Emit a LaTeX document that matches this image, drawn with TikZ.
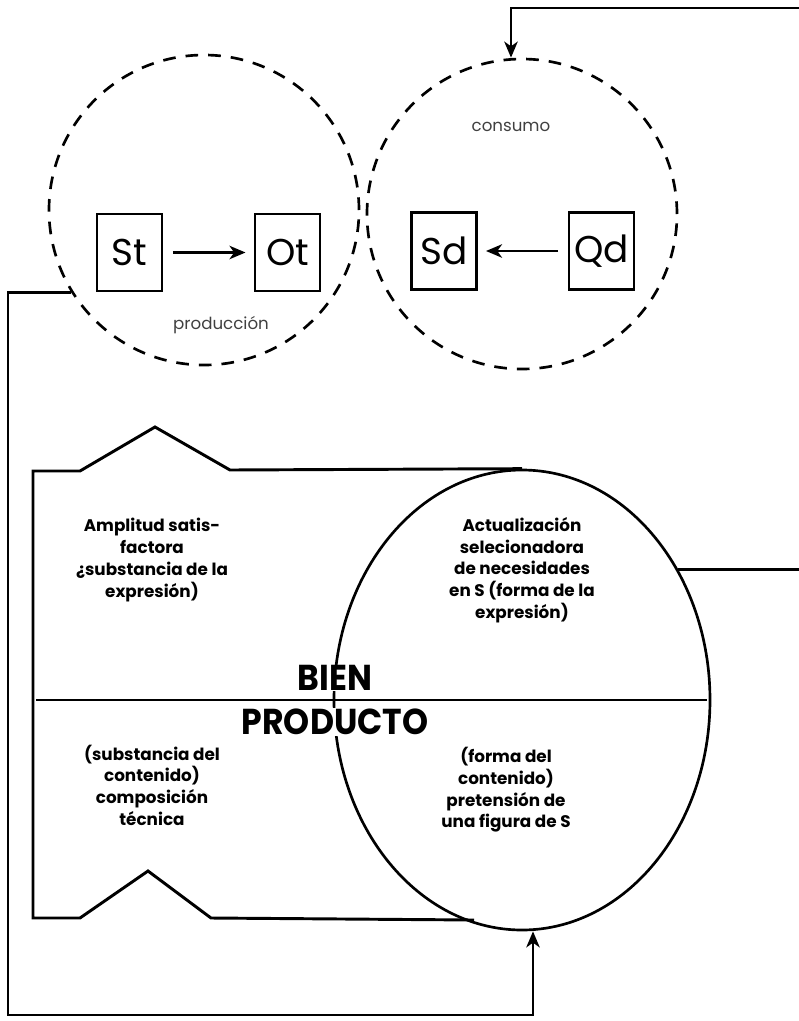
\documentclass[tikz,border=0pt]{standalone}
\usepackage{fontspec}
\setmainfont{Poppins}
\usetikzlibrary{arrows.meta,shapes.geometric}
\begin{document}
\begin{tikzpicture}[x=0.75pt,y=-0.75pt,
  box/.style={draw, line width=2.2pt, minimum width=48.75pt, minimum height=57.75pt, inner sep=0pt, font=\fontsize{28}{30}\selectfont},
  zone/.style={draw, circle, dash pattern=on 9.5pt off 7.5pt, line width=2pt, minimum size=232.5pt, inner sep=0pt},
  small/.style={text=black!75, font=\fontsize{12.5}{14}\selectfont},
  lbl/.style={align=center, font=\bfseries\fontsize{12.6}{16.3}\selectfont},
  big/.style={font=\bfseries\fontsize{27}{29}\selectfont, fill=white, inner sep=0.5pt},
  conn/.style={line width=2.2pt},
  arr/.style={conn, -{Stealth[length=12pt,width=10pt,inset=3.5pt]}}]
\useasboundingbox (0,0) rectangle (799,1021);
% circles
\node[zone] (prod) at (204,210) {};
\node[zone] (cons) at (522,214) {};
\node[small] (tprod) at (221,325) {producción};
\node[small] (tcons) at (511,127) {consumo};
% boxes
\node[box] (st) at (129.5,252.5) {St};
\node[box] (ot) at (287.5,252.5) {Ot};
\node[box] (sd) at (444,251) {Sd};
\node[box] (qd) at (601.5,251) {Qd};
\draw[arr, shorten <=7pt, shorten >=6pt] (st) -- (ot);
\draw[arr, shorten <=7pt, shorten >=6pt] (qd) -- (sd);
% big ellipse
\node[draw, ellipse, line width=2pt, minimum width=282pt, minimum height=345pt, inner sep=0pt] (bien) at (522,700) {};
% outline shape
\draw[line width=2.2pt, line join=miter] (bien.north) -- (230,470) -- (155,427) -- (80,471) -- (33,471) -- (33,918) -- (80,918) -- (148,871) -- (211,918) -- (474,920);
\coordinate (ml) at (36,700);
\coordinate (mr) at (707,700);
\draw[line width=2.2pt] (ml) -- (mr);
% texts
\node[lbl] (t1) at (152,560) {Amplitud satis-\\factora\\¿substancia de la\\expresión)};
\node[lbl] (t2) at (522,570) {Actualización\\selecionadora\\de necesidades\\en S (forma de la\\expresión)};
\node[lbl] (t3) at (152,785) {(substancia del\\contenido)\\composición\\técnica};
\node[lbl] (t4) at (506,790) {(forma del\\contenido)\\pretensión de\\una figura de S};
\node[big, xscale=0.92] (b1) at (335,678) {BIEN};
\node[big, xscale=0.92] (b2) at (335,722) {PRODUCTO};
% connectors
\coordinate (tr) at (799,8);
\coordinate (rr) at (799,571);
\coordinate (bl) at (8,1015);
\draw[arr] (tr) -| ([xshift=-8.25pt]cons.north);
\draw[conn] (bien.40) -- (bien.40 -| rr);
\draw[arr] (prod.212) -| (bl) -| ([xshift=8.25pt]bien.south);
\end{tikzpicture}
\end{document}
